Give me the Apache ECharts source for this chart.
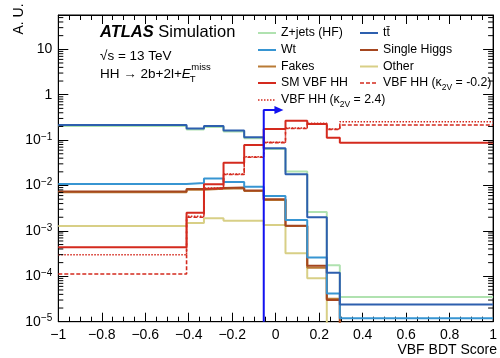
<!DOCTYPE html>
<html><head><meta charset="utf-8">
<script src="https://cdn.jsdelivr.net/npm/echarts@6/dist/echarts.min.js"></script>
<style>html,body{margin:0;padding:0;background:#fff}#c{width:500px;height:358px}</style>
</head><body><div id="c"></div>
<script>
// ---------------- data ----------------
const binEdges = [-1, -0.41, -0.33, -0.24, -0.145, -0.055, 0.045, 0.145, 0.235, 0.295, 1];
const EMPTY = 1e-9; // empty bin (drawn below the axis)
const zjetsHF    = [0.205, 0.172, 0.195, 0.155, 0.110, 0.064, 0.0203, 0.0026, 1.75e-4, 3.5e-5];
const ttbar      = [0.215, 0.180, 0.204, 0.162, 0.115, 0.066, 0.0178, 0.0020, 1.2e-4, 2.4e-5];
const wt         = [0.0108, 0.0114, 0.0142, 0.0120, 0.0094, 0.0059, 0.00174, 2.6e-4, 4.2e-5, 1.19e-5];
const singleHiggs= [0.0074, 0.0084, 0.0088, 0.0090, 0.0078, 0.0050, 0.00130, 1.7e-4, 3.0e-5, EMPTY];
const fakes      = [0.0071, 0.0081, 0.0085, 0.0087, 0.0076, 0.0048, 0.00128, 1.55e-4, 3.2e-5, EMPTY];
const other      = [0.00128, 0.0015, 0.0019, 0.00168, 0.00168, 0.00135, 3.2e-4, 9.1e-5, EMPTY, EMPTY];
const smVbfHH    = [4.35e-4, 2.5e-3, 0.0107, 0.0317, 0.078, 0.175, 0.267, 0.226, 0.113, 0.088];
const vbfK2V_2p4 = [3.0e-4, 2.1e-3, 0.0088, 0.0180, 0.043, 0.090, 0.185, 0.236, 0.175, 0.255];
const vbfK2V_m0p2= [1.12e-4, 2.0e-3, 0.0085, 0.0175, 0.042, 0.088, 0.180, 0.230, 0.172, 0.215];
const cutValue = -0.055;
const cutArrowY = 0.46;
const cutArrowEnd = 0.015;
const xMin = -1, xMax = 1, xStep = 0.2;
const yMin = 1e-5, yMax = 57;

// ---------------- styles ----------------
const FONT = 'Liberation Sans';
const C = {
  zjets: '#b0e2b0', ttbar: '#2d5fae', wt: '#3795d2', higgs: '#a5461f',
  fakes: '#b97a35', other: '#d8cf86', sm: '#d42a1e', cut: '#1212f0'
};

function hist(vals){ return binEdges.map((e,i)=>[e, vals[Math.min(i, vals.length-1)]]); }

const histDefs = [
  {name:'Z+jets (HF)', vals: zjetsHF, color: C.zjets, width: 2, type:'solid'},
  {name:'Other', vals: other, color: C.other, width: 2, type:'solid'},
  {name:'Fakes', vals: fakes, color: C.fakes, width: 2, type:'solid'},
  {name:'Single Higgs', vals: singleHiggs, color: C.higgs, width: 2, type:'solid'},
  {name:'Wt', vals: wt, color: C.wt, width: 2, type:'solid'},
  {name:'tt', vals: ttbar, color: C.ttbar, width: 2, type:'solid'},
  {name:'k24', vals: vbfK2V_2p4, color: C.sm, width: 1.5, type:[1.5,1.5]},
  {name:'km02', vals: vbfK2V_m0p2, color: C.sm, width: 1.6, type:[4,2]},
  {name:'SM VBF HH', vals: smVbfHH, color: C.sm, width: 2, type:'solid'}
];

const series = histDefs.map(d => ({
  name: d.name, type: 'line', step: 'end', data: hist(d.vals),
  symbol: 'none', clip: true, silent: true, animation: false,
  lineStyle: {color: d.color, width: d.width, type: d.type}
}));

// cut line with arrow
series.push({
  name: 'cut', type: 'line', clip: false, animation: false, silent: true,
  symbol: 'none', showSymbol: true,
  lineStyle: {color: C.cut, width: 2},
  itemStyle: {color: C.cut},
  data: [[cutValue, yMin], [cutValue, cutArrowY],
         {value: [cutArrowEnd, cutArrowY], symbol: 'triangle', symbolSize: [8, 9], symbolRotate: -90}]
});

// log minor ticks (2..9 x 10^n) on left & right, positioned through the axis scale
const minorVals = [];
for (let n = -5; n <= 1; n++) for (let k = 2; k <= 9; k++) { const v = k * Math.pow(10, n); if (v < yMax) minorVals.push(v); }
series.push({
  type: 'custom', animation: false, silent: true, clip: false, z: 5,
  data: [[0, 1]],
  renderItem: function(params, api){
    const ch = [];
    minorVals.forEach(v => {
      const a = api.coord([xMin, v]), b = api.coord([xMax, v]);
      ch.push({type:'line', shape:{x1:a[0], y1:a[1], x2:a[0]+5, y2:a[1]}, style:{stroke:'#000', lineWidth:1}});
      ch.push({type:'line', shape:{x1:b[0]-5, y1:b[1], x2:b[0], y2:b[1]}, style:{stroke:'#000', lineWidth:1}});
    });
    return {type:'group', children: ch};
  }
});

function yFmt(v){
  const n = Math.round(Math.log10(v));
  if (n === 0) return '1';
  if (n === 1) return '10';
  return '{b|10}{s|' + (n < 0 ? '\u2212' + (-n) : n) + '}';
}
function xFmt(v){
  const r = Math.round(v * 10) / 10;
  if (r === 0) return '0';
  return (r < 0 ? '\u2212' : '') + String(Math.abs(r));
}

const baseX = {
  type: 'value', min: xMin, max: xMax, interval: xStep,
  axisLine: {show: true, onZero: false, lineStyle: {color: '#000', width: 1}},
  axisTick: {show: true, inside: true, length: 9, lineStyle: {color: '#000'}},
  minorTick: {show: true, splitNumber: 4, length: 5, lineStyle: {color: '#000'}},
  splitLine: {show: false}, minorSplitLine: {show: false}
};
const baseY = {
  type: 'log', logBase: 10, min: yMin, max: yMax,
  axisLine: {show: true, onZero: false, lineStyle: {color: '#000', width: 1}},
  axisTick: {show: true, inside: true, length: 10, lineStyle: {color: '#000'}},
  splitLine: {show: false}
};

// text measuring
const mctx = document.createElement('canvas').getContext('2d');
function tw(t, f){ mctx.font = f; return mctx.measureText(t).width; }

// legend (manual, positioned as in reference)
const legendRows = [33, 50, 66.5, 83, 100];
const legendCols = [258, 360];
const legendItems = [
  {col:0,row:0, text:'Z+jets (HF)', color:C.zjets, type:'solid', w:2},
  {col:0,row:1, text:'Wt', color:C.wt, type:'solid', w:2},
  {col:0,row:2, text:'Fakes', color:C.fakes, type:'solid', w:2},
  {col:0,row:3, text:'SM VBF HH', color:C.sm, type:'solid', w:2},
  {col:0,row:4, text:'{n|VBF HH (\u03ba}{s|2V}{n| = 2.4)}', color:C.sm, type:[1.5,1.5], w:1.5},
  {col:1,row:0, text:'tt\u0304', color:C.ttbar, type:'solid', w:2},
  {col:1,row:1, text:'Single Higgs', color:C.higgs, type:'solid', w:2},
  {col:1,row:2, text:'Other', color:C.other, type:'solid', w:2},
  {col:1,row:3, text:'{n|VBF HH (\u03ba}{s|2V}{n| = -0.2)}', color:C.sm, type:[4,2], w:1.6}
];
const LFS = 12.3;
const graphics = [];
legendItems.forEach(it => {
  const x0 = legendCols[it.col], y = legendRows[it.row];
  graphics.push({type:'line', shape:{x1:x0, y1:y, x2:x0+18, y2:y}, style:{stroke:it.color, lineWidth:it.w, lineDash: it.type==='solid'?null:it.type}, z:100});
  graphics.push({type:'text', x:x0+23, y:y, z:100, style:{
    text: it.text, fill:'#000', font: LFS+'px '+FONT, verticalAlign:'middle', align:'left',
    rich: {n:{fontSize:LFS, fontFamily:FONT, lineHeight:15, verticalAlign:'middle'},
           s:{fontSize:8.5, fontFamily:FONT, lineHeight:9, verticalAlign:'bottom', padding:[0,0,-2,0]}}
  }});
});

// annotation texts
graphics.push({type:'text', x:19, y:19, rotation: Math.PI/2, style:{text:'A. U.', font:'14px '+FONT, fill:'#000', align:'center', verticalAlign:'middle'}});
graphics.push({type:'text', x:100, y:32, style:{text:'ATLAS', font:'italic bold 16.5px '+FONT, fill:'#000', verticalAlign:'middle'}});
graphics.push({type:'text', x:100 + tw('ATLAS', 'italic bold 16.5px '+FONT) + 4.5, y:32, style:{text:'Simulation', font:'16.5px '+FONT, fill:'#000', verticalAlign:'middle'}});
graphics.push({type:'text', x:100, y:56, style:{text:'\u221As = 13 TeV', font:'13.5px '+FONT, fill:'#000', verticalAlign:'middle'}});
const hhMain = 'HH \u2192 2b+2l+';
const wMain = tw(hhMain, '13.5px '+FONT);
const wE = tw('E', 'italic 13.5px '+FONT);
graphics.push({type:'text', x:100, y:74, style:{text:hhMain, font:'13.5px '+FONT, fill:'#000', verticalAlign:'middle'}});
graphics.push({type:'text', x:100 + wMain, y:74, style:{text:'E', font:'italic 13.5px '+FONT, fill:'#000', verticalAlign:'middle'}});
graphics.push({type:'text', x:100 + wMain + wE - 1, y:79, style:{text:'T', font:'9.5px '+FONT, fill:'#000', verticalAlign:'middle'}});
graphics.push({type:'text', x:100 + wMain + wE + 0.5, y:67, style:{text:'miss', font:'9.5px '+FONT, fill:'#000', verticalAlign:'middle'}});
graphics.push({type:'text', x:497, y:350, style:{text:'VBF BDT Score', font:'14px '+FONT, fill:'#000', align:'right', verticalAlign:'middle'}});

const chart = echarts.init(document.getElementById('c'), null, {renderer:'canvas'});
chart.setOption({
  animation: false,
  backgroundColor: '#fff',
  grid: {left: 58.3, right: 3.5, top: 15, bottom: 36.3, show: true, borderColor: '#000', borderWidth: 1, backgroundColor: 'transparent'},
  xAxis: [
    Object.assign({}, baseX, {position:'bottom', axisLabel:{show:true, color:'#000', fontSize:14, fontFamily:FONT, margin:6, formatter:xFmt}}),
    Object.assign({}, baseX, {position:'top', axisLabel:{show:false}})
  ],
  yAxis: [
    Object.assign({}, baseY, {position:'left', axisLabel:{show:true, color:'#000', fontFamily:FONT, fontSize:14, margin:6, showMaxLabel:false, formatter:yFmt,
      rich:{b:{fontSize:14, fontFamily:FONT, color:'#000', lineHeight:16, verticalAlign:'middle'}, s:{fontSize:10, fontFamily:FONT, color:'#000', lineHeight:10, verticalAlign:'top'}}}}),
    Object.assign({}, baseY, {position:'right', axisLabel:{show:false}})
  ],
  series: series,
  graphic: graphics
});
</script>
</body></html>
